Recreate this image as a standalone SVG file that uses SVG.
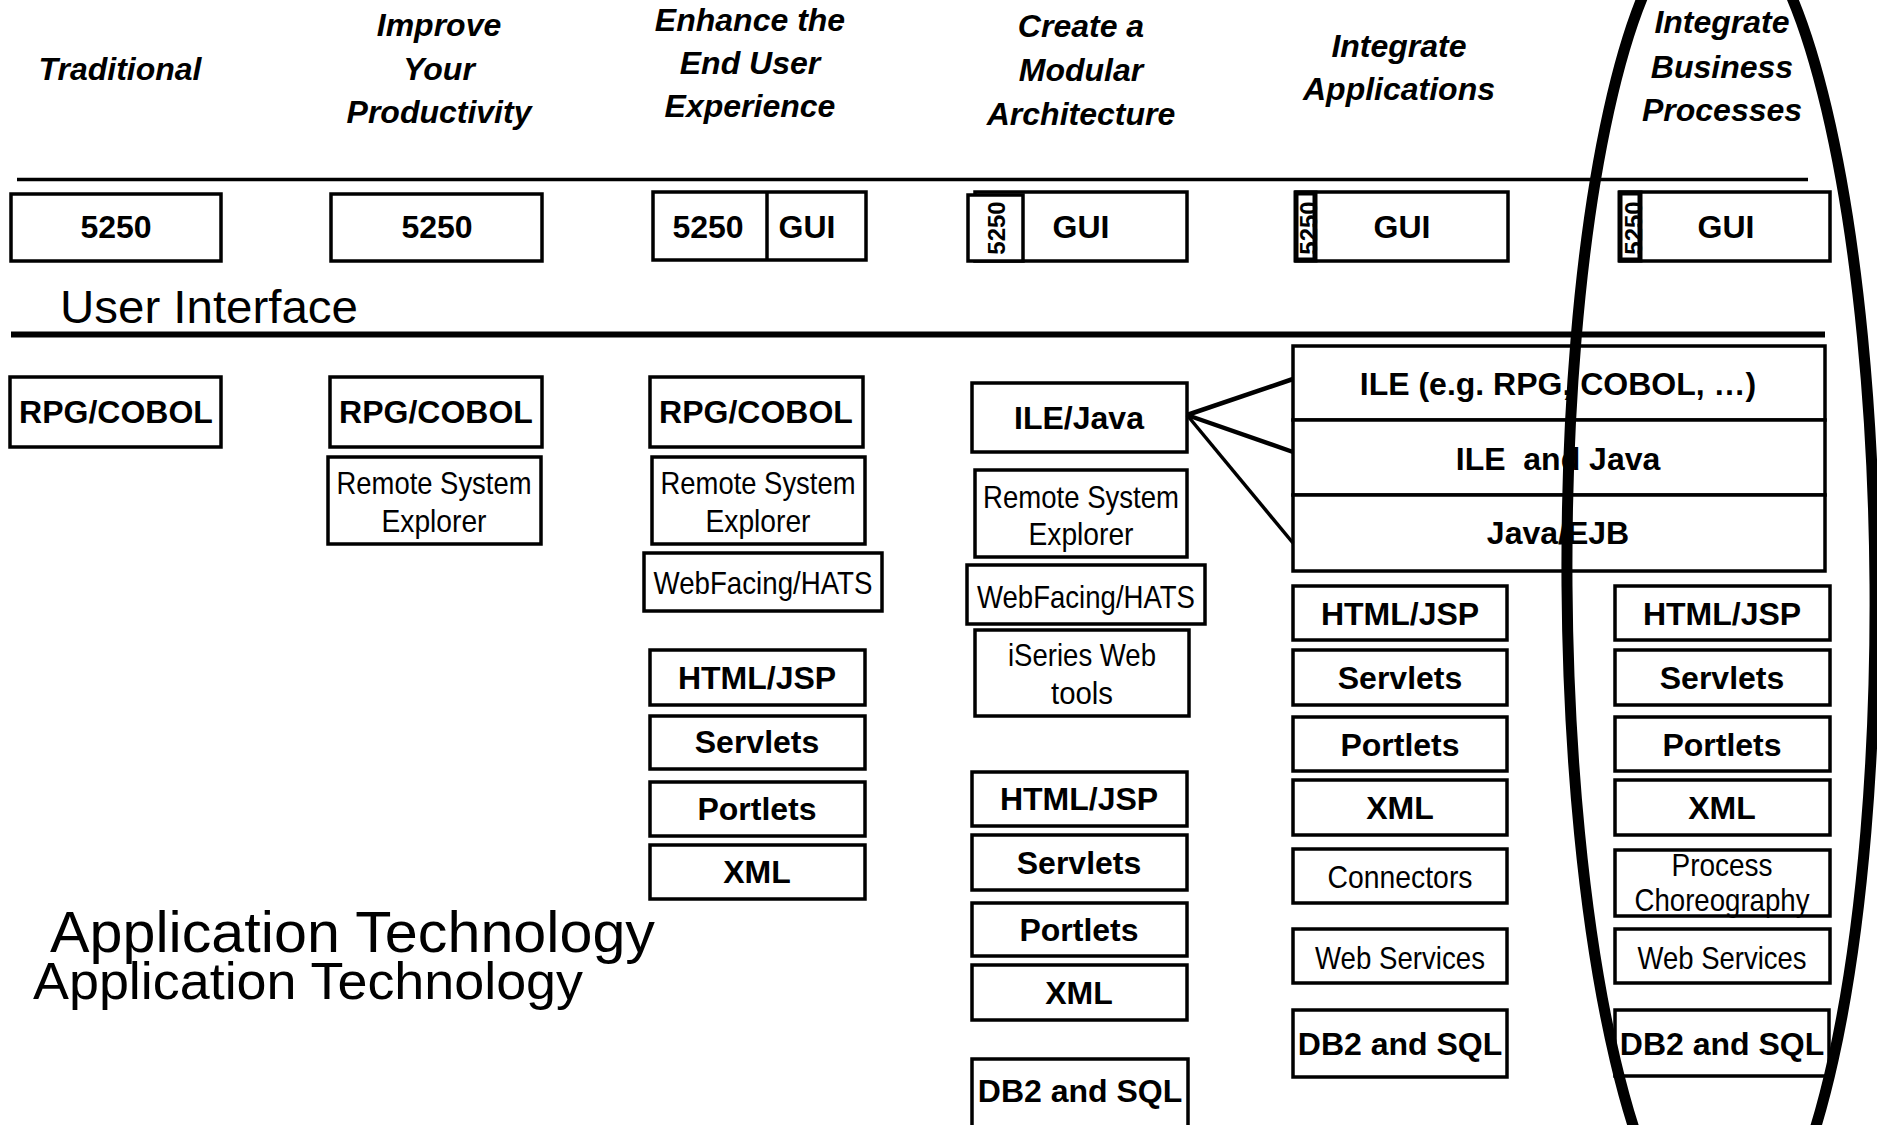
<svg xmlns="http://www.w3.org/2000/svg" width="1877" height="1125" viewBox="0 0 1877 1125">
<style>
.box{fill:#fff;stroke:#000;stroke-width:3.5}
.b{font-family:"Liberation Sans",Arial,sans-serif;font-weight:bold;font-size:32px;text-anchor:middle;fill:#000}
.r{font-family:"Liberation Sans",Arial,sans-serif;font-size:32px;text-anchor:middle;fill:#000}
.h{font-family:"Liberation Sans",Arial,sans-serif;font-weight:bold;font-style:italic;font-size:32px;text-anchor:middle;fill:#000}
.v{font-family:"Liberation Sans",Arial,sans-serif;font-weight:bold;font-size:24px;text-anchor:middle;fill:#000}
.big{font-family:"Liberation Sans",Arial,sans-serif;fill:#000}
.conn{stroke:#000;fill:none}
</style>

<g id="headers">
<text class="h" x="120" y="80">Traditional</text>
<text class="h" x="439" y="36">Improve</text>
<text class="h" x="439" y="80">Your</text>
<text class="h" x="439" y="123">Productivity</text>
<text class="h" x="750" y="31">Enhance the</text>
<text class="h" x="750" y="74">End User</text>
<text class="h" x="750" y="117">Experience</text>
<text class="h" x="1081" y="37">Create a</text>
<text class="h" x="1081" y="81">Modular</text>
<text class="h" x="1081" y="125">Architecture</text>
<text class="h" x="1399" y="57">Integrate</text>
<text class="h" x="1399" y="100">Applications</text>
<text class="h" x="1722" y="33">Integrate</text>
<text class="h" x="1722" y="78">Business</text>
<text class="h" x="1722" y="121">Processes</text>
</g>

<g id="separators">
<line x1="17" y1="179.5" x2="1808" y2="179.5" stroke="#000" stroke-width="3.5"/>
<line x1="11" y1="334.5" x2="1825" y2="334.5" stroke="#000" stroke-width="6"/>
</g>

<g id="labels">
<text class="big" x="60" y="323" font-size="47" textLength="298" lengthAdjust="spacingAndGlyphs">User Interface</text>
<text class="big" x="50" y="952" font-size="57" textLength="605" lengthAdjust="spacingAndGlyphs">Application Technology</text>
<text class="big" x="33" y="999" font-size="52" textLength="550" lengthAdjust="spacingAndGlyphs">Application Technology</text>
</g>

<!-- User interface row -->
<g id="ui-traditional"><rect class="box" x="11" y="194" width="210" height="67"/><text class="b" x="116" y="238">5250</text></g>
<g id="ui-improve"><rect class="box" x="331" y="194" width="211" height="67"/><text class="b" x="437" y="238">5250</text></g>
<g id="ui-enhance"><rect class="box" x="653" y="192" width="213" height="68"/><line x1="767" y1="192" x2="767" y2="260" stroke="#000" stroke-width="3.5"/><text class="b" x="708" y="238">5250</text><text class="b" x="807" y="238">GUI</text></g>
<g id="ui-modular"><rect class="box" x="975" y="192" width="212" height="69"/><rect class="box" x="968" y="195" width="55" height="66"/><text class="v" font-size="23" transform="translate(1005,228) rotate(-90)">5250</text><text class="b" x="1081" y="238">GUI</text></g>
<g id="ui-integrate"><rect class="box" x="1296" y="192" width="212" height="69"/><rect x="1296" y="193" width="19" height="67" fill="#fff" stroke="#000" stroke-width="5"/><text class="v" font-size="25" transform="translate(1317,228) rotate(-90)">5250</text><text class="b" x="1402" y="238">GUI</text></g>
<g id="ui-business"><rect class="box" x="1620" y="192" width="210" height="69"/><rect x="1620" y="193" width="20" height="67" fill="#fff" stroke="#000" stroke-width="5"/><text class="v" font-size="25" transform="translate(1642,228) rotate(-90)">5250</text><text class="b" x="1726" y="238">GUI</text></g>

<!-- Column 1 -->
<g id="c1-rpg"><rect class="box" x="10" y="377" width="211" height="70"/><text class="b" x="116" y="423">RPG/COBOL</text></g>

<!-- Column 2 -->
<g id="c2-rpg"><rect class="box" x="330" y="377" width="212" height="70"/><text class="b" x="436" y="423">RPG/COBOL</text></g>
<g id="c2-rse"><rect class="box" x="328" y="457" width="213" height="87"/><text class="r" x="434" y="494" textLength="195" lengthAdjust="spacingAndGlyphs">Remote System</text><text class="r" x="434" y="532" textLength="105" lengthAdjust="spacingAndGlyphs">Explorer</text></g>

<!-- Column 3 -->
<g id="c3-rpg"><rect class="box" x="650" y="377" width="213" height="70"/><text class="b" x="756" y="423">RPG/COBOL</text></g>
<g id="c3-rse"><rect class="box" x="652" y="457" width="213" height="87"/><text class="r" x="758" y="494" textLength="195" lengthAdjust="spacingAndGlyphs">Remote System</text><text class="r" x="758" y="532" textLength="105" lengthAdjust="spacingAndGlyphs">Explorer</text></g>
<g id="c3-webfacing"><rect class="box" x="644" y="553" width="238" height="58"/><text class="r" x="763" y="594" textLength="219" lengthAdjust="spacingAndGlyphs">WebFacing/HATS</text></g>
<g id="c3-html"><rect class="box" x="650" y="650" width="215" height="55"/><text class="b" x="757" y="689">HTML/JSP</text></g>
<g id="c3-servlets"><rect class="box" x="650" y="716" width="215" height="53"/><text class="b" x="757" y="753">Servlets</text></g>
<g id="c3-portlets"><rect class="box" x="650" y="782" width="215" height="54"/><text class="b" x="757" y="820">Portlets</text></g>
<g id="c3-xml"><rect class="box" x="650" y="845" width="215" height="54"/><text class="b" x="757" y="883">XML</text></g>

<!-- Column 4 -->
<g id="c4-ilejava"><rect class="box" x="972" y="383" width="215" height="69"/><text class="b" x="1079" y="429">ILE/Java</text></g>
<g id="c4-rse"><rect class="box" x="975" y="470" width="212" height="87"/><text class="r" x="1081" y="508" textLength="196" lengthAdjust="spacingAndGlyphs">Remote System</text><text class="r" x="1081" y="545" textLength="105" lengthAdjust="spacingAndGlyphs">Explorer</text></g>
<g id="c4-webfacing"><rect class="box" x="967" y="565" width="238" height="59"/><text class="r" x="1086" y="608" textLength="218" lengthAdjust="spacingAndGlyphs">WebFacing/HATS</text></g>
<g id="c4-iseries"><rect class="box" x="975" y="630" width="214" height="86"/><text class="r" x="1082" y="666" textLength="148" lengthAdjust="spacingAndGlyphs">iSeries Web</text><text class="r" x="1082" y="704" textLength="62" lengthAdjust="spacingAndGlyphs">tools</text></g>
<g id="c4-html"><rect class="box" x="972" y="772" width="215" height="54"/><text class="b" x="1079" y="810">HTML/JSP</text></g>
<g id="c4-servlets"><rect class="box" x="972" y="835" width="215" height="55"/><text class="b" x="1079" y="874">Servlets</text></g>
<g id="c4-portlets"><rect class="box" x="972" y="903" width="215" height="53"/><text class="b" x="1079" y="941">Portlets</text></g>
<g id="c4-xml"><rect class="box" x="972" y="965" width="215" height="55"/><text class="b" x="1079" y="1004">XML</text></g>
<g id="c4-db2"><rect class="box" x="972" y="1059" width="216" height="90"/><text class="b" x="1080" y="1102">DB2 and SQL</text></g>

<!-- Column 5 -->
<g id="c5-ile"><rect class="box" x="1293" y="346" width="532" height="74"/><text class="b" x="1558" y="395">ILE (e.g. RPG, COBOL, …)</text></g>
<g id="c5-ileandjava"><rect class="box" x="1293" y="420" width="532" height="75"/><text class="b" x="1558" y="470" xml:space="preserve">ILE  and Java</text></g>
<g id="c5-javaejb"><rect class="box" x="1293" y="495" width="532" height="76"/><text class="b" x="1558" y="544">Java/EJB</text></g>
<g id="c5-html"><rect class="box" x="1293" y="586" width="214" height="54"/><text class="b" x="1400" y="625">HTML/JSP</text></g>
<g id="c5-servlets"><rect class="box" x="1293" y="650" width="214" height="55"/><text class="b" x="1400" y="689">Servlets</text></g>
<g id="c5-portlets"><rect class="box" x="1293" y="717" width="214" height="54"/><text class="b" x="1400" y="756">Portlets</text></g>
<g id="c5-xml"><rect class="box" x="1293" y="780" width="214" height="55"/><text class="b" x="1400" y="819">XML</text></g>
<g id="c5-connectors"><rect class="box" x="1293" y="849" width="214" height="54"/><text class="r" x="1400" y="888" textLength="145" lengthAdjust="spacingAndGlyphs">Connectors</text></g>
<g id="c5-webservices"><rect class="box" x="1293" y="929" width="214" height="54"/><text class="r" x="1400" y="969" textLength="170" lengthAdjust="spacingAndGlyphs">Web Services</text></g>
<g id="c5-db2"><rect class="box" x="1293" y="1010" width="214" height="67"/><text class="b" x="1400" y="1055">DB2 and SQL</text></g>

<!-- Column 6 -->
<g id="c6-html"><rect class="box" x="1615" y="586" width="215" height="54"/><text class="b" x="1722" y="625">HTML/JSP</text></g>
<g id="c6-servlets"><rect class="box" x="1615" y="650" width="215" height="55"/><text class="b" x="1722" y="689">Servlets</text></g>
<g id="c6-portlets"><rect class="box" x="1615" y="717" width="215" height="54"/><text class="b" x="1722" y="756">Portlets</text></g>
<g id="c6-xml"><rect class="box" x="1615" y="780" width="215" height="55"/><text class="b" x="1722" y="819">XML</text></g>
<g id="c6-process"><rect class="box" x="1615" y="850" width="215" height="66"/><text class="r" x="1722" y="876" textLength="101" lengthAdjust="spacingAndGlyphs">Process</text><text class="r" x="1722" y="911" textLength="175" lengthAdjust="spacingAndGlyphs">Choreography</text></g>
<g id="c6-webservices"><rect class="box" x="1615" y="929" width="215" height="54"/><text class="r" x="1722" y="969" textLength="169" lengthAdjust="spacingAndGlyphs">Web Services</text></g>
<g id="c6-db2"><rect class="box" x="1615" y="1010" width="214" height="66"/><text class="b" x="1722" y="1055">DB2 and SQL</text></g>

<g id="connectors">
<line class="conn" x1="1187" y1="415" x2="1293" y2="379" stroke-width="4.5"/>
<line class="conn" x1="1187" y1="415" x2="1293" y2="452" stroke-width="4.5"/>
<line class="conn" x1="1187" y1="415" x2="1293" y2="543" stroke-width="3.5"/>
</g>

<g id="highlight">
<ellipse cx="1721" cy="585" rx="154" ry="672" fill="none" stroke="#000" stroke-width="11" transform="rotate(-0.4 1721 585)"/>
</g>
</svg>
